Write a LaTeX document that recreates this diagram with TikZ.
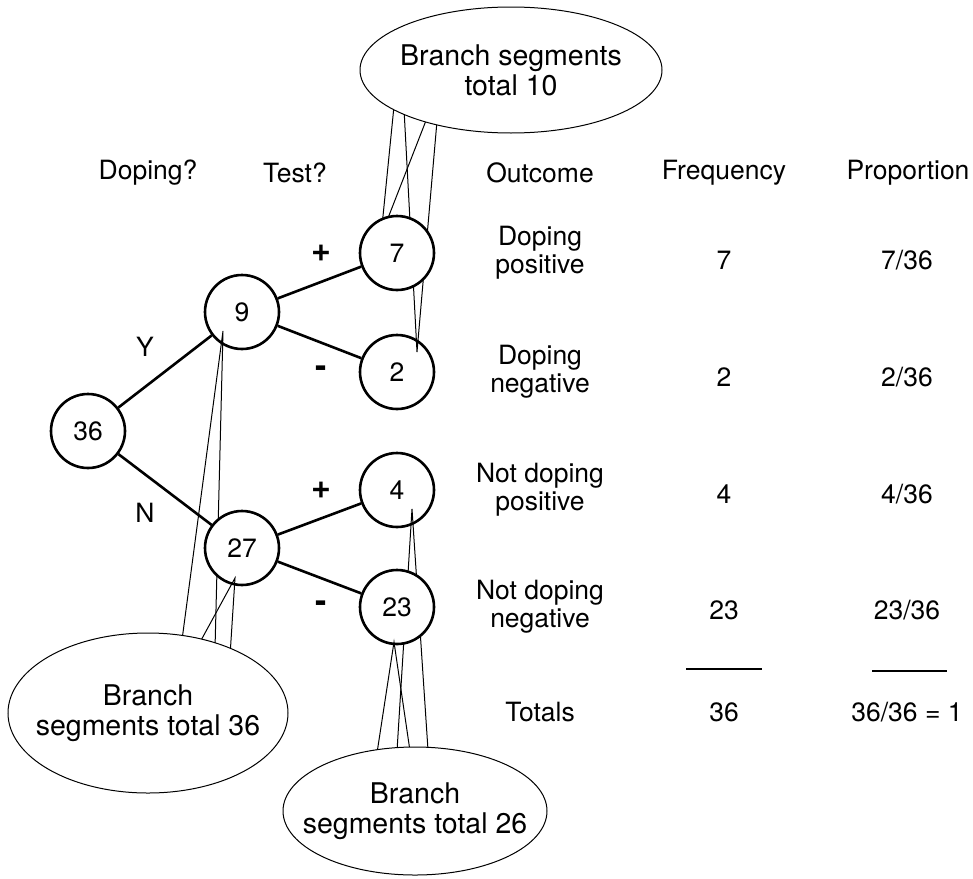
\documentclass[tikz,border=0pt]{standalone}
\usepackage{fontspec}
\setmainfont{TeX Gyre Heros}
\usetikzlibrary{shapes.geometric}

\begin{document}
\begin{tikzpicture}[x=0.5pt, y=-0.5pt,
    every node/.style = {align=center, font=\fontsize{13.25}{14}\selectfont},
    count/.style = {circle, draw, fill=white, line width=1.3pt, minimum size=37pt, inner sep=0pt},
    branch/.style = {line width=1.3pt},
    bubble/.style = {ellipse, draw, fill=white, line width=0.5pt, inner sep=0pt},
    bubbletext/.style = {font=\fontsize{14.25}{15}\selectfont},
    pointer/.style = {line width=0.5pt},
    sign/.style = {font=\fontsize{17}{17}\selectfont\bfseries},
    rule/.style = {line width=1.4pt}]

  \useasboundingbox (0,0) rectangle (973,878);

  % callout pointer ends
  \coordinate (b7a) at (394,106);  \coordinate (b7b) at (427,118);  \coordinate (t7) at (381,236);
  \coordinate (b2a) at (404,109);  \coordinate (b2b) at (437,121);  \coordinate (t2) at (417,352);
  \coordinate (b9a) at (182,640);  \coordinate (b9b) at (215,649);  \coordinate (t9) at (223,331);
  \coordinate (b27a) at (199,644); \coordinate (b27b) at (230,656); \coordinate (t27) at (235,578);
  \coordinate (b23a) at (377,753); \coordinate (b23b) at (410,751); \coordinate (t23) at (394,642);
  \coordinate (b4a) at (397,751);  \coordinate (b4b) at (428,750);  \coordinate (t4) at (412,509);

  % tree, first layer
  \node[count] (c36) at (88,431) {36};
  \node[count] (c9) at (242,312) {9};
  \node[count] (c2) at (397,372) {2};
  \node[count] (c4) at (397,490) {4};

  \draw[pointer] (b2a) -- (t2) -- (b2b);
  \draw[pointer] (b9a) -- (t9) -- (b9b);
  \draw[pointer] (b4a) -- (t4) -- (b4b);
  \draw[pointer] (b7a) -- (t7) -- (b7b);

  % tree, second layer
  \node[count] (c7) at (397,253) {7};
  \node[count] (c27) at (242,548) {27};
  \node[count] (c23) at (397,607) {23};

  \draw[pointer] (b27a) -- (t27) -- (b27b);
  \draw[pointer] (b23a) -- (t23) -- (b23b);

  \draw[branch] (c36) -- (c9);
  \draw[branch] (c36) -- (c27);
  \draw[branch] (c9) -- (c7);
  \draw[branch] (c9) -- (c2);
  \draw[branch] (c27) -- (c4);
  \draw[branch] (c27) -- (c23);

  \node (yes) at (145,347) {Y};
  \node (no) at (145,513) {N};
  \node[sign] (plus1) at (321,253) {+};
  \node[sign] (minus1) at (321,372) {-};
  \node[sign] (plus2) at (321,490) {+};
  \node[sign] (minus2) at (321,607) {-};

  % callouts
  \node[bubble, minimum width=151pt, minimum height=63pt] (bub10) at (511,70) {};
  \node[bubbletext] at (bub10) {Branch segments\\total 10};
  \node[bubble, minimum width=140pt, minimum height=80pt] (bub36) at (148,713) {};
  \node[bubbletext] at (bub36) {Branch\\segments total 36};
  \node[bubble, minimum width=132pt, minimum height=64pt] (bub26) at (415,811) {};
  \node[bubbletext] at (bub26) {Branch\\segments total 26};

  % table
  \node (hdope) at (148,173) {Doping?};
  \node (htest) at (295,173) {Test?};
  \node (hout) at (540,173) {Outcome};
  \node (hfreq) at (724,173) {Frequency};
  \node (hprop) at (908,173) {Proportion};

  \node (o1) at (540,253) {Doping\\positive};
  \node (o2) at (540,372) {Doping\\negative};
  \node (o3) at (540,490) {Not doping\\positive};
  \node (o4) at (540,607) {Not doping\\negative};
  \node (ot) at (540,712) {Totals};

  \node (f1) at (724,260) {7};
  \node (f2) at (724,377) {2};
  \node (f3) at (724,494) {4};
  \node (f4) at (724,610) {23};
  \node (ft) at (724,712) {36};

  \node (p1) at (907,260) {7/36};
  \node (p2) at (907,377) {2/36};
  \node (p3) at (907,494) {4/36};
  \node (p4) at (907,610) {23/36};
  \node (pt) at (907,712) {36/36 = 1};

  \coordinate (fl) at (686,669); \coordinate (fr) at (762,669);
  \coordinate (pl) at (872,671); \coordinate (pr) at (947,671);
  \draw[rule] (fl) -- (fr);
  \draw[rule] (pl) -- (pr);
\end{tikzpicture}
\end{document}
